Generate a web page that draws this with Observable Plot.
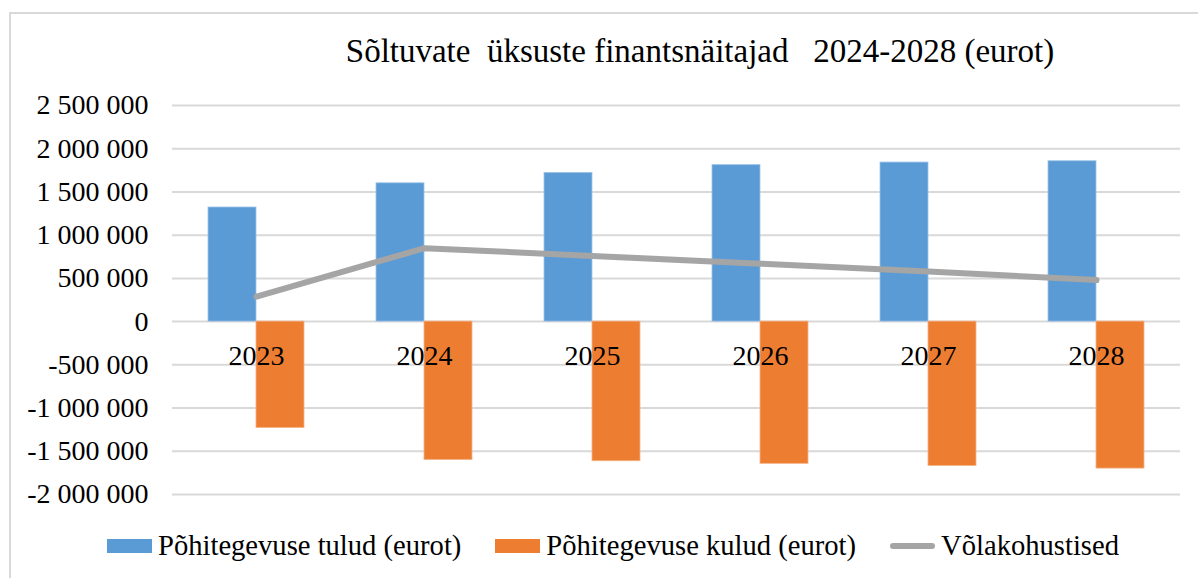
<!DOCTYPE html>
<html><head><meta charset="utf-8">
<script src="https://cdn.jsdelivr.net/npm/d3@7"></script>
<script src="https://cdn.jsdelivr.net/npm/@observablehq/plot@0.6"></script>
<style>
body{margin:0;background:#fff;}
#wrap{position:relative;width:1198px;height:578px;overflow:hidden;font-family:"Liberation Serif","Times New Roman",serif;color:#000;background:#fff;}
#frame{position:absolute;left:9px;top:12px;width:1260px;height:620px;border:2px solid #d9d9d9;box-sizing:border-box;}
#title{position:absolute;top:32px;left:700px;transform:translateX(-50%);white-space:pre;font-size:33px;line-height:38px;}
#chart{position:absolute;top:85px;left:0;}
#legend{position:absolute;top:530px;left:107px;display:flex;align-items:center;white-space:nowrap;font-size:28.6px;line-height:32px;}
.item{display:flex;align-items:center;margin-right:34px;}
.sw{display:inline-block;margin-right:6px;}
</style>
</head><body>
<div id="wrap">
  <div id="frame"></div>
  <div id="title"></div>
  <div id="chart"></div>
  <div id="legend"></div>
</div>
<script>
const titleText = "Sõltuvate  üksuste finantsnäitajad   2024-2028 (eurot)";
const years = ["2023", "2024", "2025", "2026", "2027", "2028"];
const tulud = [1320000, 1600000, 1720000, 1810000, 1840000, 1855000];
const kulud = [-1230000, -1600000, -1615000, -1645000, -1670000, -1700000];
const volg = [290000, 850000, 760000, 670000, 580000, 480000];
const yTicks = [-2000000, -1500000, -1000000, -500000, 0, 500000, 1000000, 1500000, 2000000, 2500000];
const seriesNames = ["Põhitegevuse tulud (eurot)", "Põhitegevuse kulud (eurot)", "Võlakohustised"];
const seriesColors = ["#5b9bd5", "#ed7d31", "#a5a5a5"];

document.getElementById("title").textContent = titleText;

const fmt = d3.formatLocale({decimal: ",", thousands: "\u00a0", grouping: [3], currency: ["", ""], minus: "-"}).format(",");

const tuludData = years.map((y, i) => ({year: y, value: tulud[i]}));
const kuludData = years.map((y, i) => ({year: y, value: kulud[i]}));
const volgData = years.map((y, i) => ({year: y, value: volg[i]}));

const chart = Plot.plot({
  width: 1198,
  height: 430,
  marginTop: 20,
  marginBottom: 21,
  marginLeft: 172,
  marginRight: 18,
  style: {fontFamily: "'Liberation Serif', 'Times New Roman', serif", fontSize: "28px", color: "#000", background: "transparent", overflow: "visible"},
  x: {type: "band", domain: years, padding: 0, axis: null},
  y: {domain: [-2000000, 2500000], axis: null},
  marks: [
    Plot.ruleY(yTicks, {stroke: "#d9d9d9", strokeWidth: 2}),
    Plot.barY(tuludData, {x: "year", y: "value", fill: seriesColors[0], insetLeft: 36, insetRight: 84, stroke: "#9dc3e6", strokeWidth: 0.8}),
    Plot.barY(kuludData, {x: "year", y: "value", fill: seriesColors[1], insetLeft: 84, insetRight: 36, stroke: "#f4b183", strokeWidth: 0.8}),
    Plot.lineY(volgData, {x: "year", y: "value", stroke: seriesColors[2], strokeWidth: 6, strokeLinecap: "round", strokeLinejoin: "round"}),
    Plot.text(years, {x: d => d, y: () => 0, dy: 34, text: d => d, fill: "#000", fontSize: 28}),
    Plot.axisY(yTicks, {tickSize: 0, tickPadding: 24, tickFormat: fmt, fontSize: 28, fill: "#000", label: null})
  ]
});
document.getElementById("chart").appendChild(chart);

const legend = document.getElementById("legend");
seriesNames.forEach((name, i) => {
  const item = document.createElement("div");
  item.className = "item";
  const sw = document.createElement("span");
  sw.className = "sw";
  if (i < 2) {
    sw.style.width = "45px"; sw.style.height = "14px"; sw.style.background = seriesColors[i];
  } else {
    sw.style.width = "45px"; sw.style.height = "6px"; sw.style.borderRadius = "3px"; sw.style.background = seriesColors[i];
  }
  const label = document.createElement("span");
  label.textContent = name;
  item.appendChild(sw);
  item.appendChild(label);
  legend.appendChild(item);
});
</script>
</body></html>
